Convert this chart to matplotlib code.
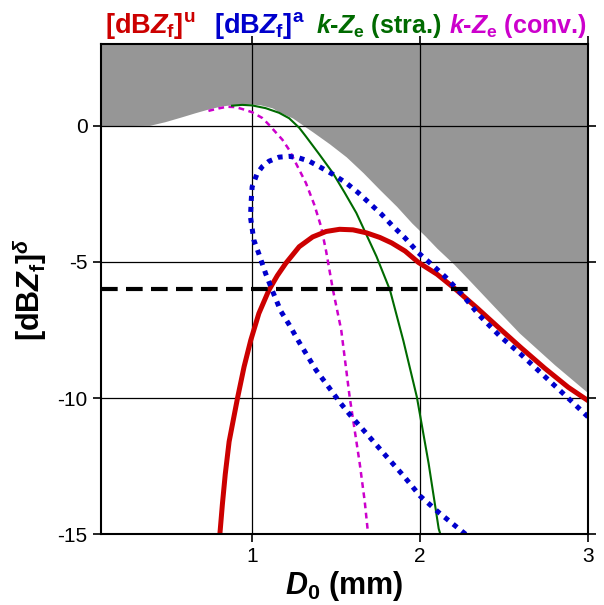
import numpy as np
import matplotlib
matplotlib.use("Agg")
from matplotlib import pyplot as plt

plt.rcParams['font.family'] = ['Liberation Sans', 'DejaVu Sans']
plt.rcParams['mathtext.fontset'] = 'custom'
plt.rcParams['mathtext.rm'] = 'Liberation Sans:bold'
plt.rcParams['mathtext.bf'] = 'Liberation Sans:bold'
plt.rcParams['mathtext.it'] = 'Liberation Sans:bold:italic'
plt.rcParams['axes.unicode_minus'] = False

# upper limit (edge of the grey area)
bound_x = [0.1, 0.39, 0.48, 0.58, 0.66, 0.74, 0.81, 0.88, 0.98, 1.05, 1.12, 1.16, 1.24,
           1.36, 1.46, 1.56, 1.66, 1.76, 1.86, 1.95, 2.03, 2.10, 2.20, 2.29, 2.44, 2.59,
           2.80, 3.0]
bound_y = [0.0, 0.02, 0.15, 0.33, 0.48, 0.62, 0.72, 0.78, 0.81, 0.77, 0.66, 0.51, 0.29,
           -0.22, -0.66, -1.14, -1.72, -2.35, -2.96, -3.57, -4.05, -4.5, -5.08, -5.66,
           -6.64, -7.61, -8.78, -9.82]

# [dBZf]^u
red_x = [0.808, 0.823, 0.84, 0.863, 0.913, 0.952, 0.992, 1.04, 1.10, 1.15, 1.20, 1.28,
         1.36, 1.44, 1.52, 1.60, 1.68, 1.76, 1.83, 1.91, 1.99, 2.10, 2.21, 2.34, 2.47,
         2.60, 2.74, 2.88, 3.00]
red_y = [-15.0, -13.9, -12.8, -11.6, -10.0, -8.85, -7.87, -6.89, -6.03, -5.5, -5.05,
         -4.44, -4.08, -3.88, -3.8, -3.82, -3.93, -4.1, -4.3, -4.6, -5.02, -5.45, -6.0,
         -6.7, -7.43, -8.15, -8.9, -9.6, -10.1]

# [dBZf]^a (loop)
blue_x = [2.27, 2.23, 2.11, 2.00, 1.90, 1.80, 1.68, 1.58, 1.52, 1.45, 1.38, 1.28, 1.22,
          1.17, 1.12, 1.08, 1.04, 1.01, 0.99, 0.995, 1.00, 1.03, 1.06, 1.10, 1.16, 1.22,
          1.28, 1.34, 1.40, 1.48, 1.56, 1.63, 1.70, 1.77, 1.83, 1.91, 1.99, 2.07, 2.15,
          2.25, 2.35, 2.47, 2.60, 2.74, 2.88, 3.00]
blue_y = [-15.0, -14.8, -14.2, -13.6, -12.85, -12.15, -11.3, -10.6, -10.14, -9.55, -8.97,
          -7.95, -7.3, -6.8, -6.05, -5.42, -4.7, -4.19, -3.35, -2.7, -2.24, -1.75, -1.5,
          -1.3, -1.15, -1.12, -1.18, -1.3, -1.5, -1.78, -2.1, -2.45, -2.85, -3.25, -3.64,
          -4.12, -4.67, -5.1, -5.55, -6.2, -6.95, -7.7, -8.4, -9.2, -10.0, -10.7]

# k-Ze (stra.)
green_x = [0.88, 0.94, 1.00, 1.08, 1.16, 1.22, 1.28, 1.32, 1.40, 1.48, 1.55, 1.62, 1.68,
           1.74, 1.82, 1.90, 1.98, 2.05, 2.11, 2.12]
green_y = [0.74, 0.77, 0.75, 0.65, 0.48, 0.28, -0.07, -0.39, -1.05, -1.73, -2.45, -3.2,
           -4.0, -4.8, -6.03, -7.9, -9.96, -12.4, -14.8, -15.0]

# k-Ze (conv.)
mag_x = [0.74, 0.80, 0.85, 0.90, 0.94, 1.00, 1.06, 1.10, 1.18, 1.22, 1.32, 1.37, 1.41,
         1.44, 1.48, 1.53, 1.58, 1.64, 1.67, 1.69]
mag_y = [0.55, 0.64, 0.70, 0.69, 0.62, 0.50, 0.29, 0.04, -0.51, -0.88, -2.1, -2.9, -3.7,
         -4.6, -6.0, -7.5, -9.95, -12.4, -13.8, -15.0]

thresh_y = -6.0
thresh_x = [0.1, 2.32]

fig = plt.figure(figsize=(6.04, 6.05), dpi=100)
ax = fig.add_axes([0.167, 0.117, 0.807, 0.81])

ax.fill_between(bound_x, bound_y, 4, color='#969696', linewidth=0, zorder=1)
for gx in [1, 2]:
    ax.axvline(gx, color='black', lw=0.9, zorder=2)
for gy in [0, -5, -10]:
    ax.axhline(gy, color='black', lw=0.9, zorder=2)

ax.plot(mag_x, mag_y, color='#cc00cc', lw=1.8, linestyle=(0, (2.3, 1.8)), zorder=3)
ax.plot(green_x, green_y, color='#006a00', lw=1.5, zorder=3)
ax.plot(red_x, red_y, color='#cc0000', lw=3.6, solid_capstyle='butt', zorder=4)
ax.plot(blue_x, blue_y, color='#0000cc', lw=3.6, linestyle=(0, (1, 1.2)), zorder=5)
ax.plot(thresh_x, [thresh_y, thresh_y], color='black', lw=3.0, linestyle=(0, (4, 2)), zorder=6)

ax.set_xlim(0.1, 3)
ax.set_ylim(-15, 3)
ax.set_xticks([1, 2, 3])
ax.set_yticks([0, -5, -10, -15])
ax.tick_params(direction='out', top=True, right=True, labeltop=False, labelright=False,
               length=6, width=1.2, labelsize=15)
for sp in ax.spines.values():
    sp.set_linewidth(1.5)
    sp.set_zorder(7)

ax.set_xlabel(r'$D_\mathrm{0}$ (mm)', fontsize=22, fontweight='bold', labelpad=2)
ax.set_ylabel(r'[dB$Z_\mathrm{f}$]$^\delta$', fontsize=22, fontweight='bold', labelpad=6)

title_parts = [(r'[dB$Z_\mathrm{f}$]$^\mathrm{u}$', '#cc0000', 0.174, 19.5),
               (r'[dB$Z_\mathrm{f}$]$^\mathrm{a}$', '#0000cc', 0.354, 19.5),
               (r'$k$-$Z_\mathrm{e}$ (stra.)', '#006a00', 0.523, 18),
               (r'$k$-$Z_\mathrm{e}$ (conv.)', '#cc00cc', 0.743, 18)]
for txt, col, xp, fs in title_parts:
    fig.text(xp, 0.946, txt, color=col, fontsize=fs, fontweight='bold',
             ha='left', va='baseline')

fig.savefig('out.png', dpi=100)
